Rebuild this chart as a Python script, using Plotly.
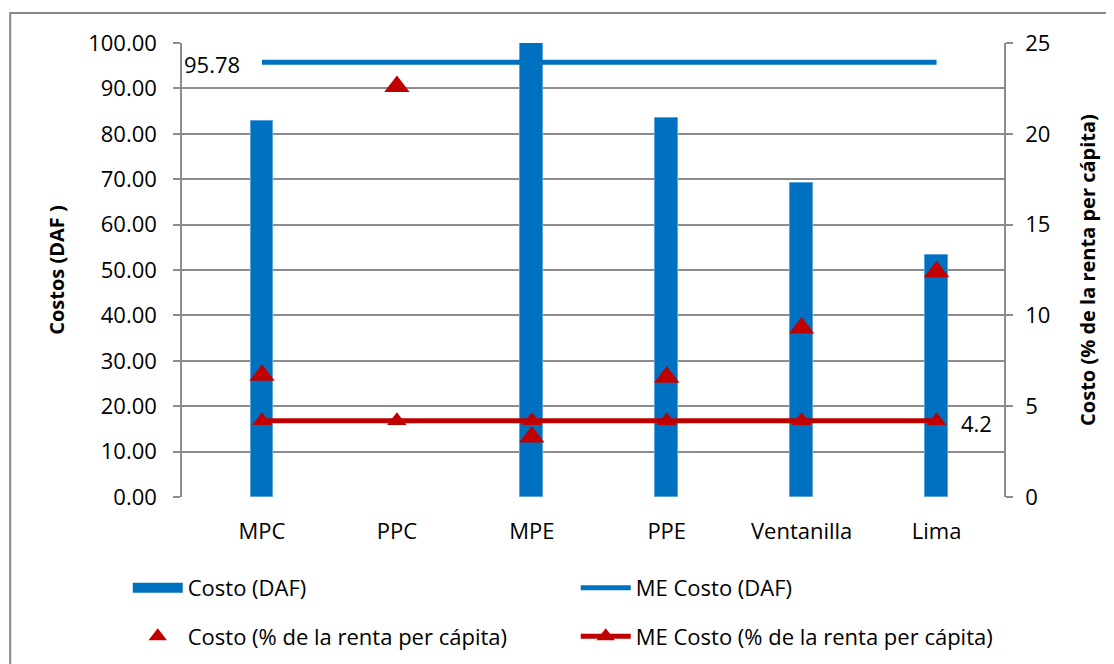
import plotly.graph_objects as go

# data
categorias = ['MPC', 'PPC', 'MPE', 'PPE', 'Ventanilla', 'Lima']
costo_daf = [82.8, None, 108.0, 83.4, 69.1, 53.4]
me_costo_daf = [95.78, 95.78, 95.78, 95.78, 95.78, 95.78]
costo_pct = [6.7, 22.6, 3.3, 6.6, 9.3, 12.4]
me_costo_pct = [4.2, 4.2, 4.2, 4.2, 4.2, 4.2]

left_ticks = [0, 10, 20, 30, 40, 50, 60, 70, 80, 90, 100]
right_ticks = [0, 5, 10, 15, 20, 25]

azul = '#0070C0'
rojo = '#C00000'
gris = '#8c8c8c'
fuente = 'Open Sans'
fs = 22

fig = go.Figure()

fig.add_trace(go.Bar(x=categorias, y=costo_daf, name='Costo (DAF)',
                     marker=dict(color=azul, line=dict(color='#5BA3DA', width=1)),
                     width=0.17, showlegend=False))
# legend entry for the bars (wide block like the original)
fig.add_trace(go.Scatter(x=[None], y=[None], name='Costo (DAF)', mode='lines',
                         line=dict(color=azul, width=16),
                         legend='legend', legendgroup='a'))

fig.add_trace(go.Scatter(x=categorias, y=me_costo_daf, name='ME Costo (DAF)',
                         mode='lines', line=dict(color=azul, width=5),
                         legend='legend2', legendgroup='c'))

fig.add_trace(go.Scatter(x=categorias, y=costo_pct, yaxis='y2',
                         name='Costo (% de la renta per cápita)', mode='markers',
                         marker=dict(symbol='triangle-up', size=22, color=rojo),
                         legend='legend', legendgroup='b'))

fig.add_trace(go.Scatter(x=categorias, y=me_costo_pct, yaxis='y2',
                         name='ME Costo (% de la renta per cápita)', mode='lines+markers',
                         line=dict(color=rojo, width=5),
                         marker=dict(symbol='triangle-up', size=17, color=rojo),
                         legend='legend2', legendgroup='d'))

fig.add_annotation(x='MPC', y=me_costo_daf[0], text=f'{me_costo_daf[0]:.2f}',
                   showarrow=False, xanchor='right', xshift=-20, yshift=-2,
                   font=dict(size=fs, color='black', family=fuente))
fig.add_annotation(x='Lima', y=me_costo_pct[-1], yref='y2', text=f'{me_costo_pct[-1]}',
                   showarrow=False, xanchor='left', xshift=22, yshift=-2,
                   font=dict(size=fs, color='black', family=fuente))

# outer frame of the chart (only top and left edges visible)
fig.add_shape(type='rect', xref='paper', yref='paper', x0=-0.209, x1=1.3,
              y0=-0.60, y1=1.066, line=dict(color='#888888', width=2), layer='below')

leg = dict(xanchor='left', yanchor='top', tracegroupgap=17, itemwidth=50,
           bgcolor='rgba(0,0,0,0)', font=dict(size=fs, family=fuente))

fig.update_layout(
    width=1114, height=664,
    margin=dict(l=174, r=118, t=35, b=175, autoexpand=False),
    plot_bgcolor='white', paper_bgcolor='white',
    font=dict(family=fuente, size=fs, color='black'),
    showlegend=True,
    legend=dict(x=-0.066, y=-0.154, **leg),
    legend2=dict(x=0.479, y=-0.154, **leg),
    xaxis=dict(showline=False, ticks='', showgrid=False, ticklabelstandoff=19),
    yaxis=dict(range=[0, 100], tickvals=left_ticks, tickformat='.2f',
               showgrid=True, gridcolor=gris, gridwidth=1.5,
               showline=True, linecolor=gris, linewidth=1.5,
               ticks='outside', ticklen=7, tickcolor=gris, tickwidth=1.5,
               ticklabelstandoff=12, zeroline=False,
               title=dict(text='<b>Costos (DAF )</b>', font=dict(size=fs - 2), standoff=18)),
    yaxis2=dict(range=[0, 25], tickvals=right_ticks, overlaying='y', side='right',
                showgrid=False, showline=True, linecolor=gris, linewidth=1.5,
                ticks='outside', ticklen=7, tickcolor=gris, tickwidth=1.5,
                ticklabelstandoff=8, zeroline=False,
                title=dict(text='<b>Costo (% de la renta per cápita)</b>',
                           font=dict(size=fs - 2), standoff=32)),
    bargap=0,
)

fig.write_html('out.html')
